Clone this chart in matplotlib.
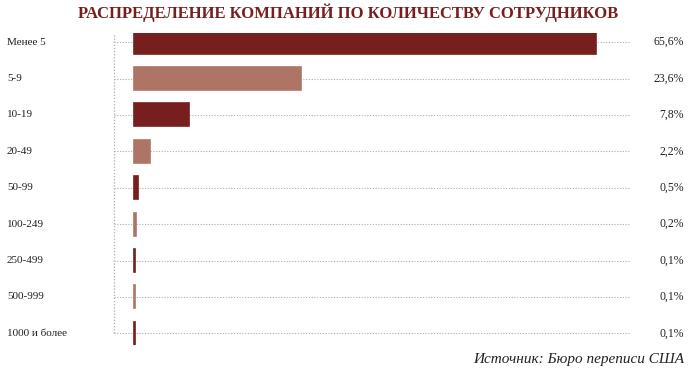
import numpy as np
import matplotlib
matplotlib.use("Agg")
import matplotlib.pyplot as plt
import matplotlib.transforms as mtransforms

# ---------------------------------------------------------
# DATA
# ---------------------------------------------------------
categories = ["Менее 5", "5-9", "10-19", "20-49", "50-99",
              "100-249", "250-499", "500-999", "1000 и более"]
shares = [65.6, 23.6, 7.8, 2.2, 0.5, 0.2, 0.1, 0.1, 0.1]
share_labels = ["65,6%", "23,6%", "7,8%", "2,2%", "0,5%",
                "0,2%", "0,1%", "0,1%", "0,1%"]

title = "РАСПРЕДЕЛЕНИЕ КОМПАНИЙ ПО КОЛИЧЕСТВУ СОТРУДНИКОВ"
source = "Источник: Бюро переписи США"

# ---------------------------------------------------------
# STYLE
# ---------------------------------------------------------
dark = "#771e1e"
light = "#ae7567"
grid_col = "#bba7a7"
text_col = "#222222"

plt.rcParams["font.family"] = ["Liberation Serif", "DejaVu Serif"]

fig = plt.figure(figsize=(7, 3.8), dpi=100)
ax = fig.add_axes([114 / 700, 35 / 380, 516 / 700, 312 / 380])

y = np.arange(len(categories))
colors = [dark if i % 2 == 0 else light for i in range(len(categories))]

ax.barh(y, shares, height=0.63, color=colors, edgecolor=colors,
        linewidth=1.2, zorder=3)

x0, x1 = -2.9, 70.4
ax.set_xlim(x0, x1)
ax.set_ylim(8.32, -0.25)

# dotted guides
ax.set_yticks(y)
ax.grid(axis="y", linestyle=(0, (1, 1.5)), color=grid_col, linewidth=0.8, zorder=0)
ax.set_axisbelow(True)
ax.axvline(x0, ymin=(8.32 - y[-1]) / (8.32 + 0.25), ymax=1,
           linestyle=(0, (1, 1.5)), color=grid_col, linewidth=0.9, clip_on=False)

for s in ax.spines.values():
    s.set_visible(False)
ax.set_xticks([])
ax.tick_params(axis="y", length=0, labelleft=False)

# labels on both sides
trans = mtransforms.blended_transform_factory(fig.transFigure, ax.transData)
for yi, cat, lab in zip(y, categories, share_labels):
    fig.text(7 / 700, yi, cat, transform=trans, ha="left", va="center",
             fontsize=8, color=text_col)
    fig.text(684 / 700, yi, lab, transform=trans, ha="right", va="center",
             fontsize=8.5, color=text_col)

fig.text(0.497, 1 - 13 / 380, title, ha="center", va="center",
         fontsize=12, fontweight="heavy", color=dark)
fig.text(684 / 700, 1 - 360 / 380, source, ha="right", va="center",
         fontsize=11, style="italic", color=text_col)

fig.savefig("out.png", dpi=100)
